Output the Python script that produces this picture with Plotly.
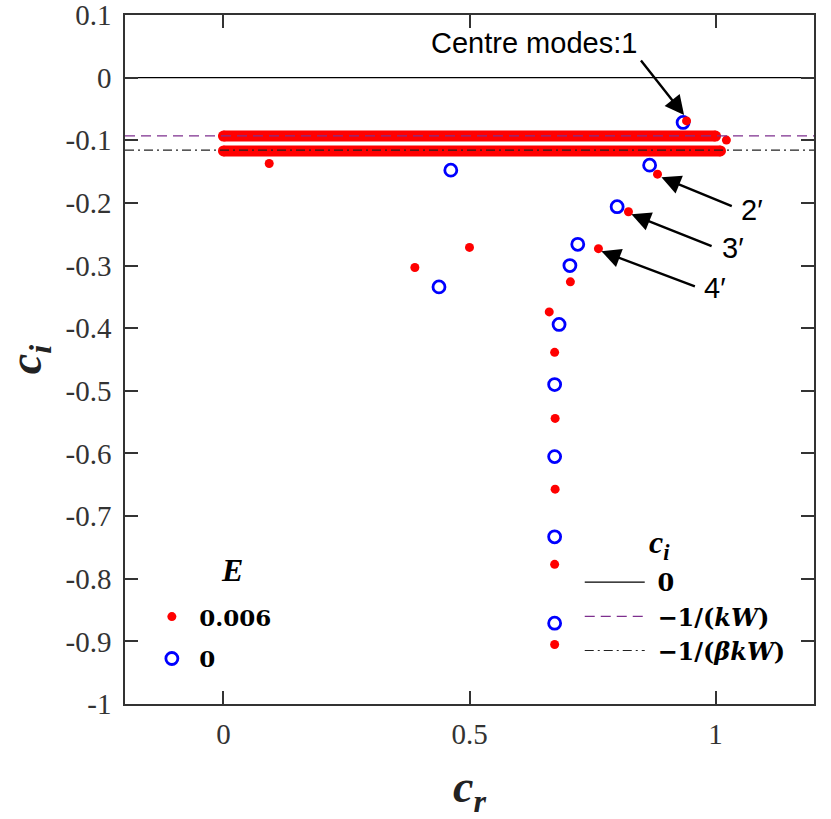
import plotly.graph_objects as go

# discrete eigenvalues, E = 0.006 (red dots)
red_cr = [0.941, 1.022, 0.093, 0.882, 0.823, 0.762, 0.500, 0.389, 0.705, 0.662,
          0.673, 0.674, 0.674, 0.673, 0.673]
red_ci = [-0.069, -0.0996, -0.137, -0.154, -0.214, -0.273, -0.271, -0.303, -0.326, -0.374,
          -0.4385, -0.544, -0.657, -0.777, -0.905]

# discrete eigenvalues, E = 0 (blue open circles)
blue_cr = [0.934, 0.866, 0.800, 0.720, 0.704, 0.682, 0.673, 0.673, 0.673, 0.673, 0.462, 0.438]
blue_ci = [-0.0714, -0.1396, -0.206, -0.266, -0.300, -0.394, -0.490, -0.605, -0.733, -0.871,
           -0.1476, -0.334]

# continuous spectrum bands for E = 0.006
band_upper_cr = [0.0, 1.0]
band_upper_ci = [-0.0932, -0.0932]
band_lower_cr = [0.0, 1.01]
band_lower_ci = [-0.117, -0.117]

# reference levels of c_i
ref_cr = [-0.2, 1.2]
ci_zero = [0.0, 0.0]
ci_kw = [-0.0928, -0.0928]
ci_bkw = [-0.1157, -0.1157]

xtick_vals = [0, 0.5, 1]
xtick_text = ['0', '0.5', '1']
ytick_vals = [0.1, 0, -0.1, -0.2, -0.3, -0.4, -0.5, -0.6, -0.7, -0.8, -0.9, -1]
ytick_text = ['0.1', '0', '-0.1', '-0.2', '-0.3', '-0.4', '-0.5', '-0.6', '-0.7', '-0.8', '-0.9', '-1']

RED = '#ff0000'
BLUE = '#0000ff'
PURPLE = '#7e2f8e'

fig = go.Figure()

for bx, by in [(band_upper_cr, band_upper_ci), (band_lower_cr, band_lower_ci)]:
    fig.add_trace(go.Scatter(x=bx, y=by, mode='lines+markers', showlegend=False,
                             line=dict(color=RED, width=11),
                             marker=dict(color=RED, size=11), hoverinfo='skip'))

fig.add_trace(go.Scatter(x=blue_cr, y=blue_ci, mode='markers', name='&nbsp;<b>0</b>',
                         legend='legend', legendgroup='e0', legendrank=2,
                         marker=dict(symbol='circle-open', size=12, color=BLUE,
                                     line=dict(width=2.8, color=BLUE))))
fig.add_trace(go.Scatter(x=red_cr, y=red_ci, mode='markers', name='&nbsp;<b>0.006</b>',
                         legend='legend', legendgroup='e006', legendrank=1,
                         marker=dict(symbol='circle', size=9, color=RED)))

fig.add_trace(go.Scatter(x=ref_cr, y=ci_zero, mode='lines', name='&nbsp;<b>0</b>',
                         legend='legend2', line=dict(color='black', width=1.2)))
fig.add_trace(go.Scatter(x=ref_cr, y=ci_kw, mode='lines', name='&nbsp;<b>\u22121/(<i>kW</i>)</b>',
                         legend='legend2', line=dict(color=PURPLE, width=1.2, dash='10px,6px')))
fig.add_trace(go.Scatter(x=ref_cr, y=ci_bkw, mode='lines', name='&nbsp;<b>\u22121/(<i>\u03b2kW</i>)</b>',
                         legend='legend2', line=dict(color='#222222', width=1.2, dash='9px,4px,2px,4px')))

axis_common = dict(showline=True, linecolor='#333333', linewidth=1.5, mirror='ticks',
                   ticks='inside', ticklen=13, tickwidth=1.5, tickcolor='#333333',
                   showgrid=False, zeroline=False, automargin=False,
                   ticklabeloverflow='allow',
                   tickfont=dict(family='Liberation Serif', size=29, color='#333333'))

fig.update_layout(
    width=831, height=819,
    margin=dict(l=125, r=17, t=15, b=115),
    plot_bgcolor='white', paper_bgcolor='white',
    xaxis=dict(range=[-0.2, 1.2], tickvals=xtick_vals, ticktext=xtick_text,
               ticklabelstandoff=3,
               title=dict(text='<b><i>c<sub>r</sub></i></b>', standoff=22,
                          font=dict(family='Liberation Serif', size=46, color='#222222')),
               **axis_common),
    yaxis=dict(range=[-1, 0.1001], tickvals=ytick_vals, ticktext=ytick_text,
               ticklabelstandoff=6,
               title=dict(text='<b><i>c<sub>i</sub></i></b>', standoff=37,
                          font=dict(family='Liberation Serif', size=46, color='#222222')),
               **axis_common),
    legend=dict(x=0.039, y=0.158, xanchor='left', yanchor='top', bgcolor='rgba(0,0,0,0)',
                traceorder='grouped', tracegroupgap=9, itemwidth=30,
                font=dict(family='DejaVu Serif', size=23, color='black')),
    legend2=dict(x=0.66, y=0.209, xanchor='left', yanchor='top', bgcolor='rgba(0,0,0,0)',
                 itemwidth=60,
                 font=dict(family='DejaVu Serif', size=24, color='black')),
    showlegend=True,
)

# legend titles
fig.add_annotation(text='<b><i>E</i></b>', xref='paper', yref='paper', x=0.137, y=0.166,
                   showarrow=False, font=dict(family='Liberation Serif', size=32, color='black'))
fig.add_annotation(text='<b><i>c<sub>i</sub></i></b>', xref='paper', yref='paper', x=0.794, y=0.199,
                   showarrow=False, font=dict(family='Liberation Serif', size=32, color='black'))

# arrows and labels
arrows = [
    # head (x, y), tail (ax, ay)
    (0.936, -0.0597, 0.846, 0.0297),
    (0.890, -0.159, 1.036, -0.206),
    (0.829, -0.218, 0.995, -0.270),
    (0.768, -0.277, 0.961, -0.334),
]
for hx, hy, tx, ty in arrows:
    fig.add_annotation(x=hx, y=hy, ax=tx, ay=ty, xref='x', yref='y', axref='x', ayref='y',
                       text='', showarrow=True, arrowhead=2, arrowsize=1.6, arrowwidth=2.4,
                       arrowcolor='black', standoff=0, startstandoff=0)

labels = [
    ('Centre modes:1', 0.632, 0.055),
    ('2\u2032', 1.075, -0.211),
    ('3\u2032', 1.035, -0.272),
    ('4\u2032', 0.999, -0.336),
]
for txt, lx, ly in labels:
    fig.add_annotation(text=txt, x=lx, y=ly, xref='x', yref='y', showarrow=False,
                       font=dict(family='Liberation Sans', size=29, color='black'))

# drop the default page margin so the figure sits at the window's top-left corner
fig.write_html("out.html", config={'displayModeBar': False},
               post_script="document.body.style.margin='0';")
